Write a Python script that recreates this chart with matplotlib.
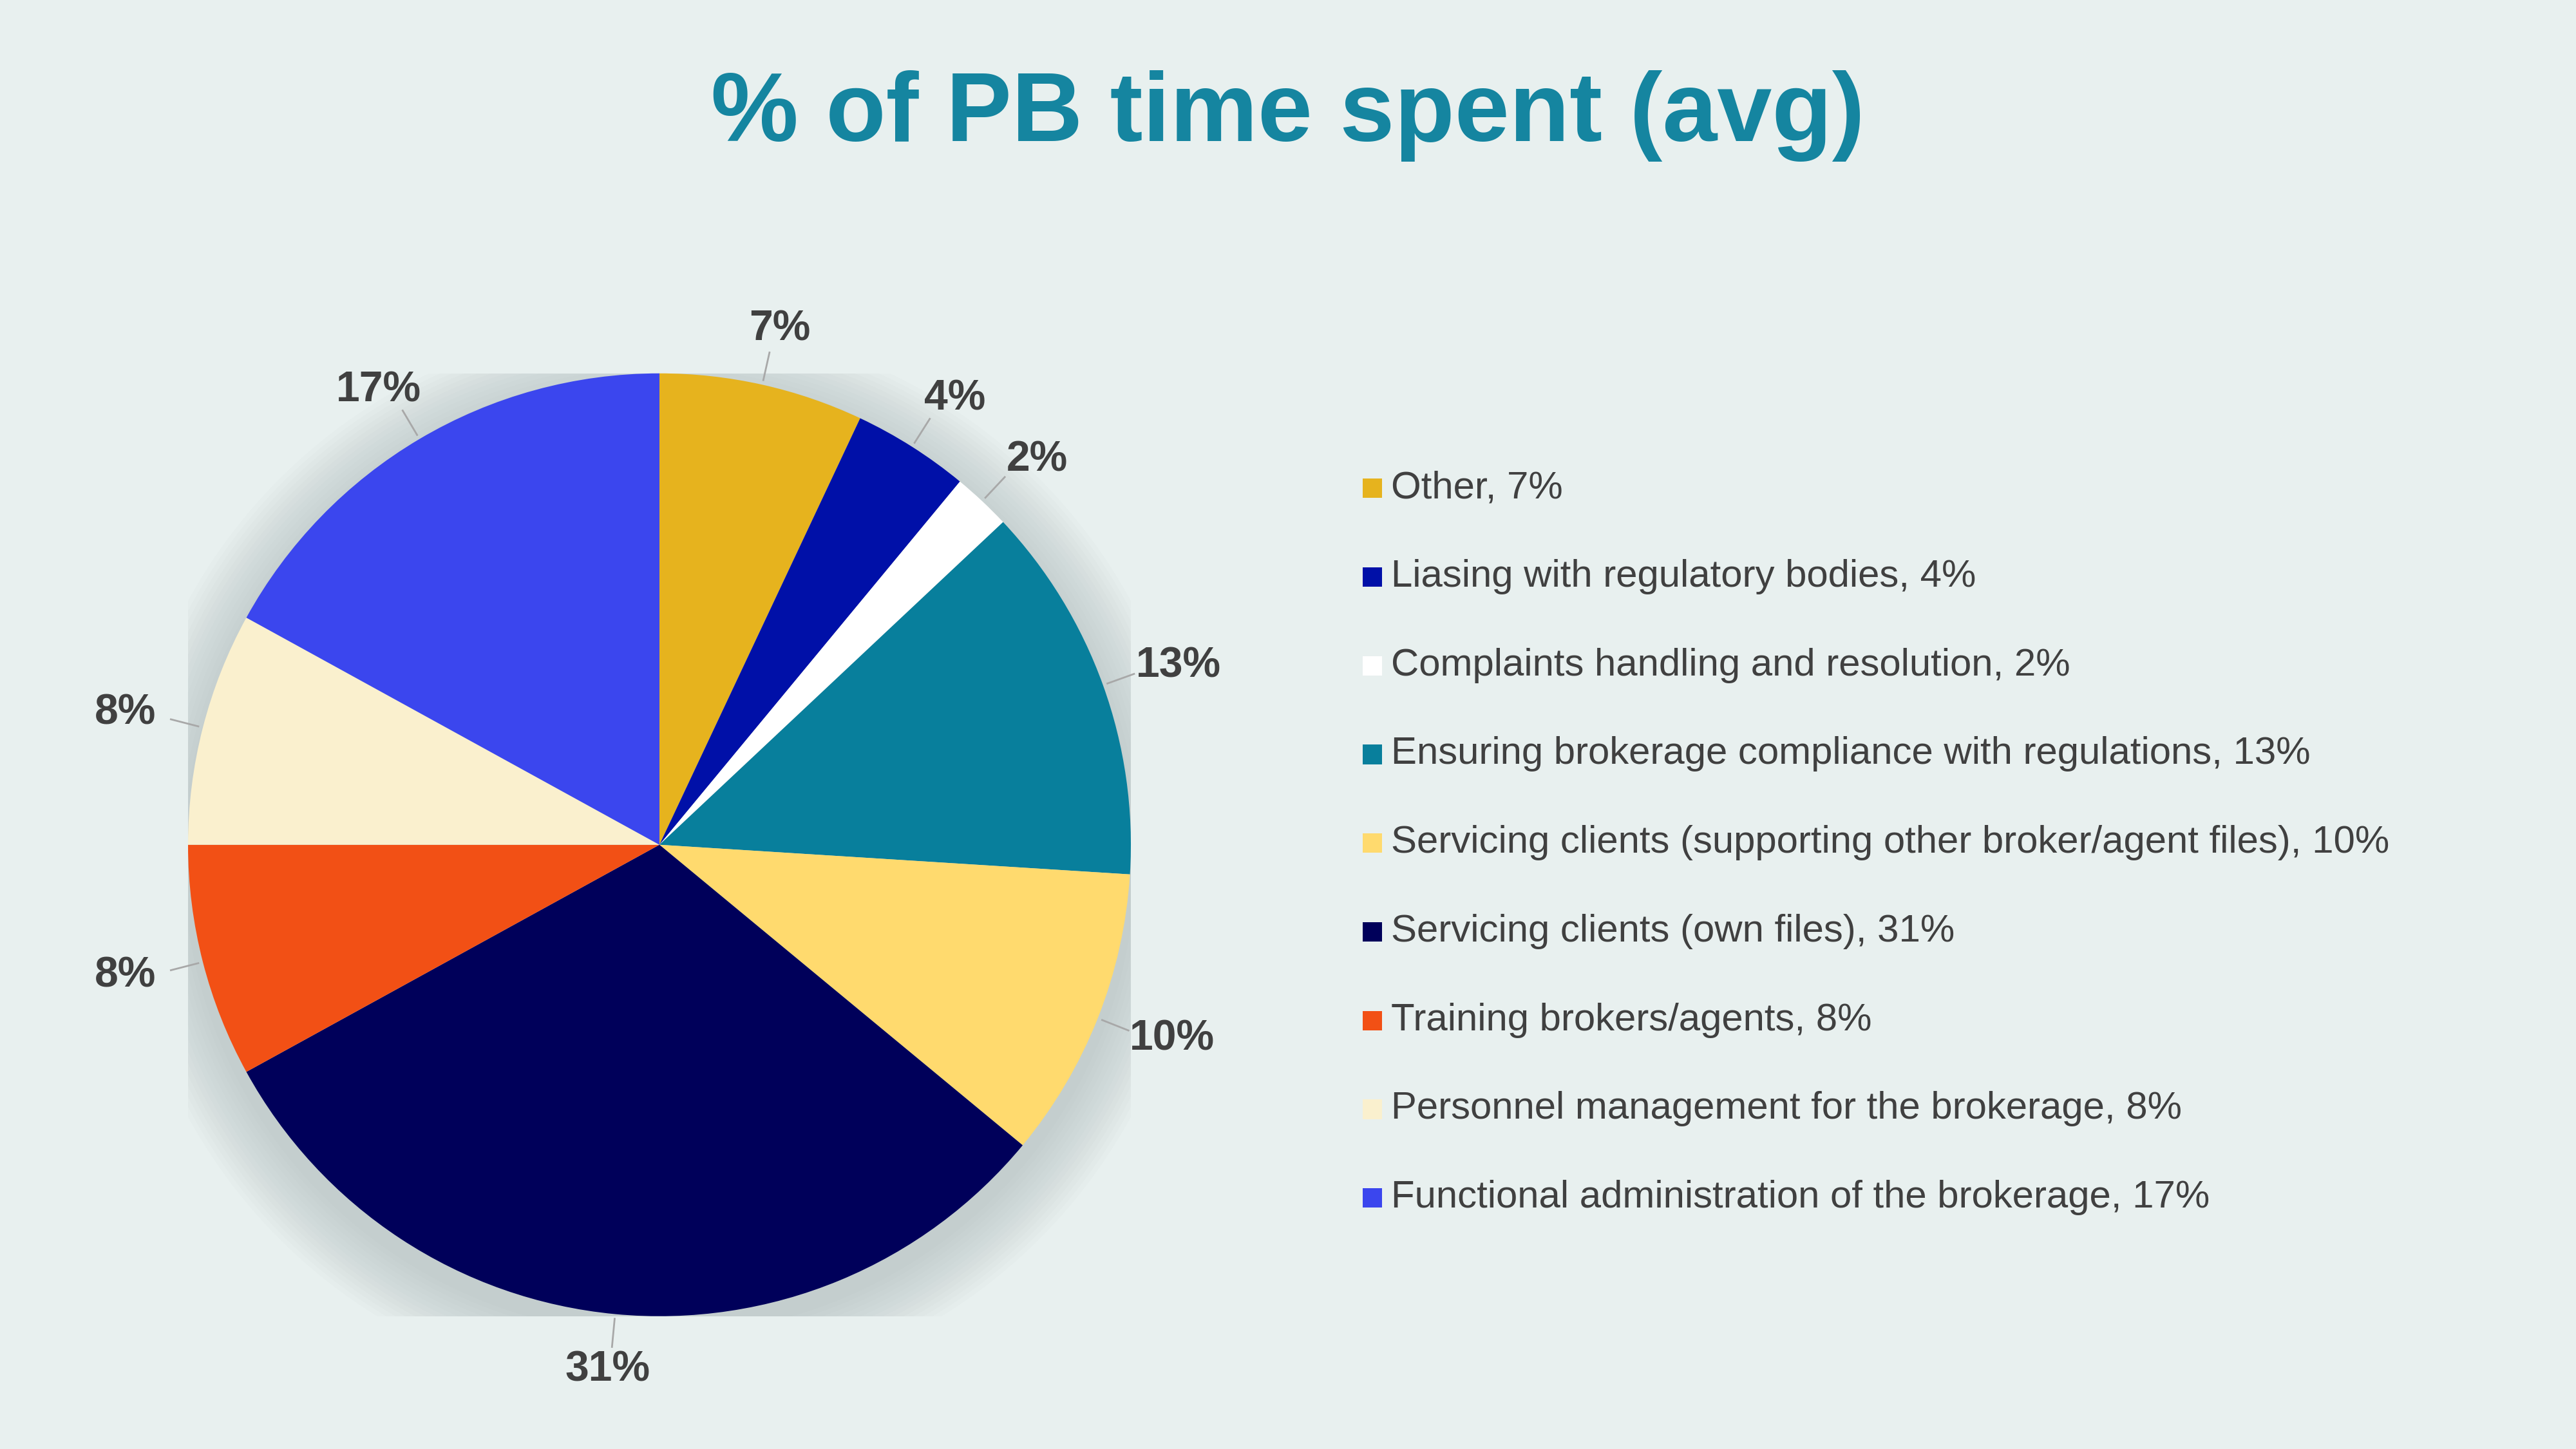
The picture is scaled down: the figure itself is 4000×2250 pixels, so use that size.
import numpy as np
import matplotlib.pyplot as plt
from matplotlib.patches import Circle, Rectangle

categories = ["Other", "Liasing with regulatory bodies", "Complaints handling and resolution",
              "Ensuring brokerage compliance with regulations",
              "Servicing clients (supporting other broker/agent files)",
              "Servicing clients (own files)", "Training brokers/agents",
              "Personnel management for the brokerage",
              "Functional administration of the brokerage"]
values = [7, 4, 2, 13, 10, 31, 8, 8, 17]
colors = ["#E6B31E", "#0010A8", "#FFFFFF", "#087F9C", "#FFDA6E",
          "#00005A", "#F25015", "#FAF0CE", "#3B46EE"]

bg = "#E8F0EF"
plt.rcParams["font.family"] = "Liberation Sans"
fig = plt.figure(figsize=(16, 9), dpi=250, facecolor=bg)

fig.text(0.5, 0.92, "% of PB time spent (avg)", ha="center", va="center",
         fontsize=44, fontweight="bold", color="#1585A0")

ax = fig.add_axes([0.256 - 0.183, 0.417 - 0.3255, 0.366, 0.651])
ax.set_facecolor(bg)

# soft shadow
for i in range(14):
    r = 1.14 - i * 0.01
    ax.add_patch(Circle((0.0, -0.03), r, color="#9AA8A8", alpha=0.035, lw=0, zorder=0))

wedges, _ = ax.pie(values, colors=colors, startangle=90, counterclock=False,
                   radius=1, wedgeprops=dict(lw=0))
for w in wedges:
    w.set_zorder(2)
ax.set_xlim(-1, 1)
ax.set_ylim(-1, 1)
ax.axis("off")

for w, v in zip(wedges, values):
    ang = np.deg2rad((w.theta1 + w.theta2) / 2)
    c, s = np.cos(ang), np.sin(ang)
    ax.plot([1.01 * c, 1.07 * c], [1.01 * s, 1.07 * s], color="#A8A8A8", lw=0.8,
            clip_on=False, zorder=3)
    ax.text(1.17 * c, 1.12 * s, f"{v}%", ha="center", va="center", fontsize=19,
            fontweight="bold", color="#404040", clip_on=False)

# legend
y0, dy = 1 - 297 / 882, 54 / 882
for i, (cat, v, col) in enumerate(zip(categories, values, colors)):
    y = y0 - i * dy
    fig.patches.append(Rectangle((0.529, y - 0.007), 0.0075, 0.0135, facecolor=col,
                                 transform=fig.transFigure, lw=0))
    fig.text(0.540, y, f"{cat}, {v}%", ha="left", va="center", fontsize=17.3,
             color="#404040")

fig.savefig("out.png", facecolor=bg)
